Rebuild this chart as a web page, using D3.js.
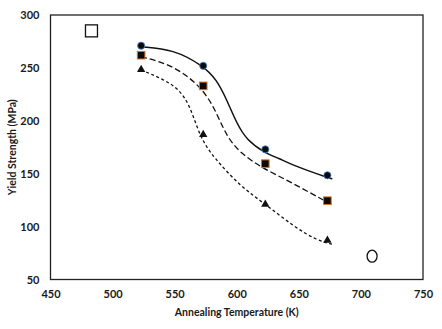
<!DOCTYPE html>
<html><head><meta charset="utf-8">
<script src="https://cdn.jsdelivr.net/npm/d3@7"></script>
<style>body{margin:0;background:#fff}svg{display:block}text{font-family:Lato,"Open Sans",sans-serif;font-weight:bold;fill:#1a1a1a}</style>
</head><body><div id="chart"></div>
<script>
const temps = [523, 573, 623, 673];
const circleVals = [271, 252, 173, 148.5];
const squareVals = [262, 233, 159.5, 124.5];
const triangleVals = [248.5, 187, 121, 87];
// fitted trend curves [T, value]
const solidFit = [[523,270],[549,267.6],[573,252],[584,238.6],[592,219.7],[600,197.6],[608,181.8],[623,169.3],[633,165],[648,156.6],[675,145.6],[677,145.2]];
const longDashFit = [[523,260.6],[549,252.7],[573,230.7],[584,207],[592,185],[603,169.3],[621,155],[643,142.5],[677,120.4]];
const shortDashFit = [[523,248],[549,235.4],[560,219.7],[566,200.8],[572,181.8],[581,166],[603,137.8],[624,120.4],[646,100],[664,87.3],[677,83.3]];
const xTicks = [450,500,550,600,650,700,750];
const yTicks = [50,100,150,200,250,300];
const openSquare = [483, 285];
const openCircle = [709, 72];

const W = 442, H = 329;
const m = {l:50.5, r:19, t:15, b:49.5};
const svg = d3.select("#chart").append("svg").attr("width",W).attr("height",H);
const x = d3.scaleLinear().domain([450,750]).range([m.l, W-m.r]);
const y = d3.scaleLinear().domain([50,300]).range([H-m.b, m.t]);

svg.append("rect").attr("x",m.l).attr("y",m.t).attr("width",x(750)-x(450)).attr("height",y(50)-y(300))
  .attr("fill","none").attr("stroke","#222").attr("stroke-width",1.3);

const xa = svg.append("g").attr("transform",`translate(0,${y(50)})`)
  .call(d3.axisBottom(x).tickValues(xTicks).tickSize(0).tickPadding(11));
xa.select(".domain").remove();
xa.selectAll("text").attr("font-size",11).attr("font-family","Lato,sans-serif").attr("font-weight","bold").attr("fill","#1a1a1a");
const ya = svg.append("g").attr("transform",`translate(${m.l},0)`)
  .call(d3.axisLeft(y).tickValues(yTicks).tickSize(0).tickPadding(11));
ya.select(".domain").remove();
ya.selectAll("text").attr("font-size",11).attr("font-family","Lato,sans-serif").attr("font-weight","bold").attr("fill","#1a1a1a");

svg.append("text").attr("x",(x(450)+x(750))/2).attr("y",316).attr("text-anchor","middle").attr("font-size",10.5).text("Annealing Temperature (K)");
svg.append("text").attr("transform",`translate(16,${(y(50)+y(300))/2}) rotate(-90)`).attr("text-anchor","middle").attr("font-size",10.5).text("Yield Strength (MPa)");

const line = d3.line().x(d=>x(d[0])).y(d=>y(d[1])).curve(d3.curveBasis);
svg.append("path").attr("d",line(solidFit)).attr("fill","none").attr("stroke","#111").attr("stroke-width",1.5);
svg.append("path").attr("d",line(longDashFit)).attr("fill","none").attr("stroke","#111").attr("stroke-width",1.3).attr("stroke-dasharray","6,3");
svg.append("path").attr("d",line(shortDashFit)).attr("fill","none").attr("stroke","#111").attr("stroke-width",1.3).attr("stroke-dasharray","3,2.5");

svg.selectAll(".c").data(temps).enter().append("circle").attr("cx",d=>x(d)).attr("cy",(d,i)=>y(circleVals[i])).attr("r",3.6)
  .attr("fill","#0a0a0a").attr("stroke","#4a90d9").attr("stroke-width",0.8);
svg.selectAll(".s").data(temps).enter().append("rect").attr("x",d=>x(d)-3.8).attr("y",(d,i)=>y(squareVals[i])-3.8).attr("width",7.6).attr("height",7.6)
  .attr("fill","#0a0a0a").attr("stroke","#e07020").attr("stroke-width",1);
const tri = d3.symbol().type(d3.symbolTriangle).size(30);
svg.selectAll(".t").data(temps).enter().append("path").attr("d",tri).attr("transform",(d,i)=>`translate(${x(d)},${y(triangleVals[i])})`).attr("fill","#111");

svg.append("rect").attr("x",x(openSquare[0])-6).attr("y",y(openSquare[1])-6).attr("width",12).attr("height",12).attr("fill","none").attr("stroke","#111").attr("stroke-width",1.3);
svg.append("ellipse").attr("cx",x(openCircle[0])).attr("cy",y(openCircle[1])).attr("rx",5).attr("ry",6).attr("fill","none").attr("stroke","#111").attr("stroke-width",1.3);
</script></body></html>
